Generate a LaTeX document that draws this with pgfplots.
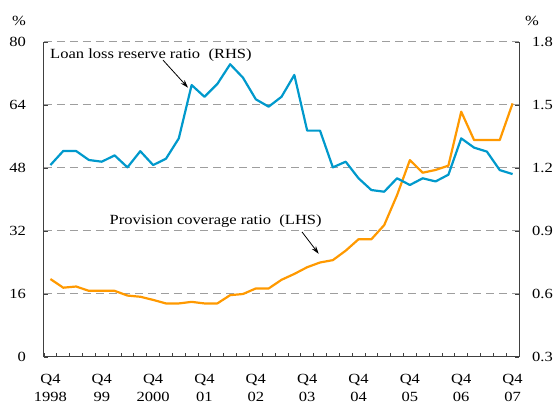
\documentclass[border=0pt]{standalone}
\usepackage{fontspec}
\setmainfont{Liberation Serif}[FakeStretch=1.18]
\usepackage{pgfplots}
\pgfplotsset{compat=1.18}
\usetikzlibrary{arrows.meta}
\definecolor{lblue}{RGB}{0,153,204}
\definecolor{lorange}{RGB}{255,153,0}
\pgfplotstableread{
i cov
0 19.8
1 17.6
2 17.9
3 16.8
4 16.8
5 16.8
6 15.6
7 15.3
8 14.5
9 13.6
10 13.6
11 14.0
12 13.6
13 13.6
14 15.7
15 16.0
16 17.4
17 17.4
18 19.6
19 21.1
20 22.8
21 24.0
22 24.6
23 27.0
24 29.9
25 29.9
26 33.5
27 41.1
28 50.0
29 46.8
30 47.5
31 48.6
32 62.3
33 55.1
34 55.1
35 55.1
36 64.4
}\covtable
\pgfplotstableread{
i res
0 1.214
1 1.281
2 1.281
3 1.238
4 1.230
5 1.260
6 1.203
7 1.280
8 1.214
9 1.244
10 1.341
11 1.595
12 1.539
13 1.600
14 1.694
15 1.630
16 1.527
17 1.492
18 1.539
19 1.643
20 1.378
21 1.378
22 1.203
23 1.230
24 1.151
25 1.095
26 1.087
27 1.151
28 1.119
29 1.151
30 1.136
31 1.168
32 1.341
33 1.297
34 1.278
35 1.190
36 1.171
}\restable
\begin{document}
\fontsize{14}{18}\selectfont
\begin{tikzpicture}[font=\fontsize{14}{18}\selectfont]
\begin{axis}[name=ax, scale only axis, width=475pt, height=315pt,
  xmin=-0.5, xmax=36.5, ymin=0, ymax=80,
  axis x line*=bottom, axis y line*=left,
  axis line style={-, black!75, line width=1pt},
  tick label style={font=\fontsize{14}{18}\selectfont},
  /pgf/number format/assume math mode=true,
  xtick={0,4,...,36},
  xticklabels={{Q4\\1998},{Q4\\99},{Q4\\2000},{Q4\\01},{Q4\\02},{Q4\\03},{Q4\\04},{Q4\\05},{Q4\\06},{Q4\\07}},
  xticklabel style={align=center, inner sep=0pt, yshift=-17pt},
  major x tick style={draw=none},
  minor xtick={-0.5,0.5,...,36.5},
  minor x tick style={black!75, line width=0.8pt},
  minor tick length=4pt,
  ytick={0,16,32,48,64,80},
  yticklabel style={inner sep=0pt, xshift=-18pt},
  major y tick style={black!75, line width=0.8pt},
  major tick length=4pt,
  tick align=inside,
  ymajorgrids,
  grid style={black!38, line width=1pt, dash pattern=on 8pt off 5pt},
]
\addplot[lorange, line width=2.2pt, line join=round] table[x=i, y=cov] {\covtable};
\node[anchor=west, inner sep=0pt] at (axis cs:-0.03,76.7) {Loan loss reserve ratio\ \ (RHS)};
\draw[-{Stealth[length=8pt,width=5pt]}, line width=0.8pt] (axis cs:8.77,75.4) -- (axis cs:10.72,68.4);
\node[anchor=west, inner sep=0pt] at (axis cs:4.6,34.5) {Provision coverage ratio\ \ (LHS)};
\draw[-{Stealth[length=8pt,width=5pt]}, line width=0.8pt] (axis cs:19.6,31.75) -- (axis cs:20.9,26.2);
\end{axis}
\begin{axis}[scale only axis, width=475pt, height=315pt,
  xmin=-0.5, xmax=36.5, ymin=0.3, ymax=1.8,
  axis x line=none, axis y line*=right,
  axis line style={-, black!75, line width=1pt},
  tick label style={font=\fontsize{14}{18}\selectfont},
  ytick={0.3,0.6,0.9,1.2,1.5,1.8},
  yticklabel style={inner sep=0pt, xshift=13pt, /pgf/number format/.cd, fixed, fixed zerofill, precision=1, assume math mode=true},
  major y tick style={black!75, line width=0.8pt},
  major tick length=4pt,
  tick align=inside,
]
\addplot[lblue, line width=2.2pt, line join=round] table[x=i, y=res] {\restable};
\end{axis}
\node at ([xshift=-25pt,yshift=21pt]ax.north west) {\%};
\node at ([xshift=13pt,yshift=21pt]ax.north east) {\%};
\path ([shift={(-44pt,-48pt)}]ax.south west) rectangle ([shift={(36pt,42pt)}]ax.north east);
\end{tikzpicture}
\end{document}
